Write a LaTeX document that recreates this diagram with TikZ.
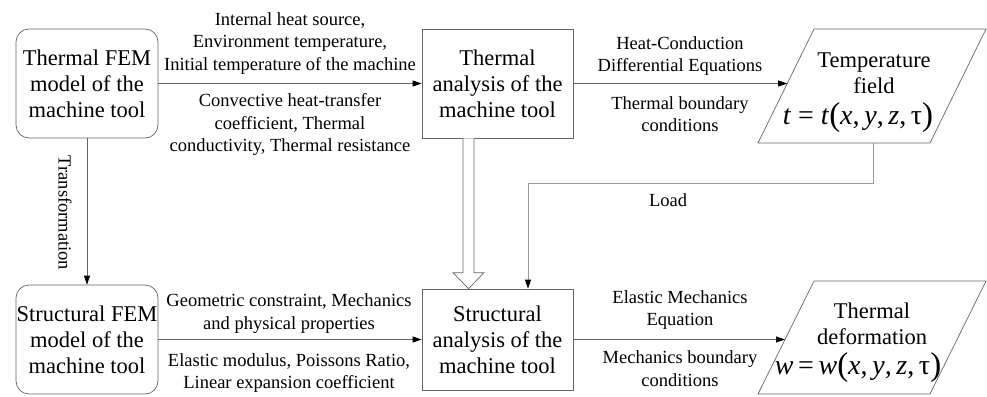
\documentclass[tikz,border=0pt]{standalone}
\usepackage{fontspec}
\setmainfont{Liberation Serif}
\usetikzlibrary{arrows.meta,calc}

% enlarged parentheses for the field formulas
\newcommand{\bigparen}[1]{{\fontsize{33}{33}\selectfont\raisebox{-1.5pt}{#1}}}

\begin{document}
\begin{tikzpicture}[x=1pt,y=-1pt,
  line/.style={draw=black!60, line width=0.7pt},
  arr/.style={line, -{Triangle[length=9pt,width=6pt,color=black]}},
  boxfont/.style={font=\fontsize{22.5}{26}\selectfont},
  fembox/.style={line, boxfont, rounded corners=13pt, minimum width=142pt,
    minimum height=109pt, align=center, inner sep=0pt},
  anbox/.style={line, boxfont, minimum width=151pt, align=center, inner sep=0pt},
  lbl/.style={align=center, font=\fontsize{18.5}{22.5}\selectfont, inner sep=0pt},
  formula/.style={font=\fontsize{28}{30}\selectfont, inner sep=0pt},
]
\useasboundingbox (0,0) rectangle (987,396);

% main boxes
\node[fembox] (tfem) at (87,83.5) {Thermal FEM\\model of the\\machine tool};
\node[anbox, minimum height=109pt] (tan) at (497.5,83.5) {Thermal\\analysis of the\\machine tool};
\node[fembox] (sfem) at (87,339.5) {Structural FEM\\model of the\\machine tool};
\node[anbox, minimum height=101pt] (san) at (497.5,339.5) {Structural\\analysis of the\\machine tool};

% output parallelograms
\draw[line] (814,29) -- (986,29) -- (930,143) -- (758,143) -- cycle;
\draw[line] (814,281) -- (986,281) -- (930,394) -- (758,394) -- cycle;
\node[boxfont, align=center, inner sep=0pt] (tfield) at (874,73) {Temperature\\field};
\node[formula] (tform) at (858,118) {\textit{t} = \textit{t}\bigparen{(}\textit{x},\,\textit{y},\,\textit{z},\,τ\bigparen{)}};
\node[boxfont, align=center, inner sep=0pt] (tdef) at (872,323.5) {Thermal\\deformation};
\node[formula] (dform) at (858,368) {\textit{w}\,=\,\textit{w}\bigparen{(}\textit{x},\,\textit{y},\,\textit{z},\,τ\bigparen{)}};

% anchor points on the slanted edges and on the load path
\coordinate (tin) at (787.2,83.5);
\coordinate (din) at (785,339.5);
\coordinate (lstart) at (873,143);
\coordinate (lturn) at (873,183);
\coordinate (lcorner) at (528,183);

% connectors
\draw[arr] (tfem.east) -- (tan.west);
\draw[arr] (tan.east) -- (tin);
\draw[arr] (sfem.east) -- (san.west);
\draw[arr] (san.east) -- (din);
\draw[arr] (tfem.south) -- (sfem.north);
\draw[arr, draw=black!40] (lstart) -- (lturn) -- (lcorner) -- (lcorner |- san.north);

% hollow transfer arrow
\coordinate (htop) at ($(tan.south)+(-29,0)$);
\coordinate (hbot) at ($(san.north)+(-29,0)$);
\draw[line, fill=white] ($(htop)+(-5.5,0)$) -- ($(hbot)+(-5.5,-16)$) -- ($(hbot)+(-15.5,-16)$)
  -- (hbot) -- ($(hbot)+(15.5,-16)$) -- ($(hbot)+(5.5,-16)$) -- ($(htop)+(5.5,0)$);

% connector labels
\node[lbl] (l1) at (290,43.5) {Internal heat source,\\Environment temperature,\\Initial temperature of the machine};
\node[lbl] (l2) at (290,124.5) {Convective heat-transfer\\coefficient, Thermal\\conductivity, Thermal resistance};
\node[lbl] (l3) at (680,56) {Heat-Conduction\\Differential Equations};
\node[lbl] (l4) at (680,114) {Thermal boundary\\conditions};
\node[lbl] (l5) at (668,200) {Load};
\node[lbl, rotate=-90] (l6) at (65,213) {Transformation};
\node[lbl] (l7) at (289,313.5) {Geometric constraint, Mechanics\\and physical properties};
\node[lbl] (l8) at (289,373) {Elastic modulus, Poissons Ratio,\\Linear expansion coefficient};
\node[lbl] (l9) at (680,310) {Elastic Mechanics\\Equation};
\node[lbl] (l10) at (680,368.5) {Mechanics boundary\\conditions};
\end{tikzpicture}
\end{document}
